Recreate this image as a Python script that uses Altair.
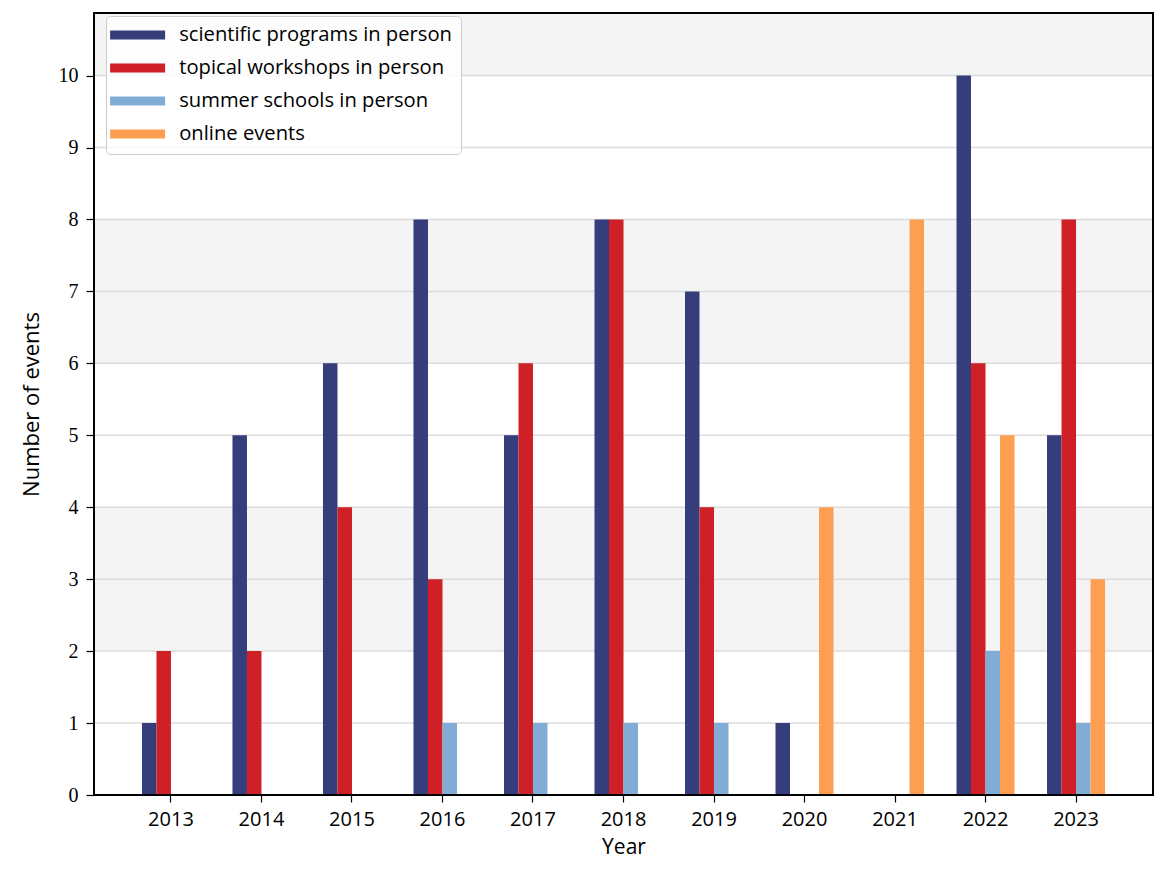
import altair as alt
import pandas as pd

years = [2013, 2014, 2015, 2016, 2017, 2018, 2019, 2020, 2021, 2022, 2023]
series = ["scientific programs in person", "topical workshops in person",
          "summer schools in person", "online events"]
scientific = [1, 5, 6, 8, 5, 8, 7, 1, 0, 10, 5]
topical = [2, 2, 4, 3, 6, 8, 4, 0, 0, 6, 8]
summer = [0, 0, 0, 1, 1, 1, 1, 0, 0, 2, 1]
online = [0, 0, 0, 0, 0, 0, 0, 4, 8, 5, 3]
colors = ["#353e7a", "#cf1f27", "#80acd6", "#fe9e50"]

y_max = 10.87
y_ticks = list(range(0, 11))
band_start = [2, 6, 10]
band_end = [4, 8, y_max]

rows = []
for name, vals in zip(series, [scientific, topical, summer, online]):
    for yr, v in zip(years, vals):
        rows.append({"year": str(yr), "series": name, "value": v})
df = pd.DataFrame(rows)
bands = pd.DataFrame({"y0": band_start, "y1": band_end})
grid = pd.DataFrame({"t": y_ticks})

yscale = alt.Scale(domain=[0, y_max], nice=False, zero=True)

band_layer = alt.Chart(bands).mark_rect(color="#f4f4f4").encode(
    x=alt.value(0), x2=alt.value("width"),
    y=alt.Y("y0:Q", scale=yscale), y2="y1:Q")

grid_layer = alt.Chart(grid).mark_rule(color="#dcdcdc", strokeWidth=1.5).encode(
    x=alt.value(0), x2=alt.value("width"),
    y=alt.Y("t:Q", scale=yscale))

bars = alt.Chart(df).mark_bar(strokeWidth=0).encode(
    x=alt.X("year:O", title="Year",
            scale=alt.Scale(paddingInner=0.359, paddingOuter=0.53),
            axis=alt.Axis(labelAngle=0, labelFont="Open Sans", labelFontSize=20,
                          labelColor="black", tickColor="black", tickSize=7,
                          tickWidth=1.2, labelPadding=7, domain=False,
                          titleFont="Open Sans", titleFontSize=21,
                          titleFontWeight="normal", titleColor="black",
                          titlePadding=7, zindex=1)),
    xOffset=alt.XOffset("series:N", sort=series,
                        scale=alt.Scale(domain=series, paddingInner=0, paddingOuter=0)),
    y=alt.Y("value:Q", scale=yscale, title="Number of events",
            axis=alt.Axis(values=y_ticks, format="d", grid=False,
                          labelFont="Liberation Serif",
                          labelFontSize=20, labelColor="black", tickColor="black",
                          tickSize=8, tickWidth=1.2, labelPadding=8, domain=False,
                          titleFont="Open Sans", titleFontSize=22,
                          titleFontWeight="normal", titleColor="black",
                          titlePadding=15, zindex=1)),
    color=alt.Color("series:N", sort=series,
                    scale=alt.Scale(domain=series, range=colors),
                    legend=alt.Legend(title=None, orient="none", legendX=12, legendY=3,
                                      symbolType="M-2.75,-0.45L2.75,-0.45L2.75,0.45L-2.75,0.45Z",
                                      symbolSize=400, symbolStrokeWidth=0,
                                      symbolOffset=12.5,
                                      labelFont="Open Sans", labelFontSize=20.2,
                                      labelColor="black", labelOffset=31.5,
                                      padding=9, rowPadding=12,
                                      strokeColor="#cccccc", fillColor="rgba(255,255,255,0.8)",
                                      cornerRadius=4, labelLimit=400)),
)

frame = alt.Chart(grid).mark_rect(fillOpacity=0, stroke="black", strokeWidth=1.5).encode(
    x=alt.value(0), x2=alt.value("width"), y=alt.value(0), y2=alt.value("height"))

chart = alt.layer(band_layer, grid_layer, bars, frame).properties(
    width=1059, height=782,
    autosize=alt.AutoSizeParams(type="none"),
    padding={"left": 86, "top": 5, "right": 4, "bottom": 66},
).configure_view(stroke=None).configure(background="white")

chart.save("out.html", embed_options={"renderer": "svg", "actions": False})
